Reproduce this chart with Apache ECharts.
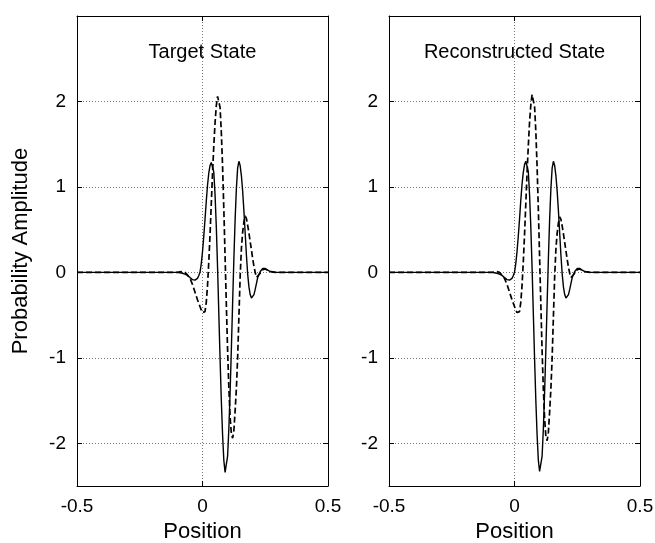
<!DOCTYPE html>
<html>
<head>
<meta charset="utf-8">
<script src="https://cdn.jsdelivr.net/npm/echarts@6/dist/echarts.min.js"></script>
<style>html,body{margin:0;padding:0;background:#fff;}#c{width:655px;height:543px;}</style>
</head>
<body>
<div id="c"></div>
<script>
// ---- data ----
const xTicks = [-0.5, 0, 0.5];
const yTicks = [-2, -1, 0, 1, 2];
const panelTitles = ['Target State', 'Reconstructed State'];

const posLeft = [-0.5,
  -0.10, -0.09, -0.08, -0.07, -0.06, -0.05, -0.04, -0.03,
  -0.020, -0.015, -0.010, -0.005, 0.000, 0.005, 0.010, 0.015, 0.020, 0.025,
  0.030, 0.035, 0.040, 0.045, 0.050, 0.055, 0.060, 0.065, 0.070, 0.075,
  0.080, 0.085, 0.090, 0.095, 0.100, 0.105, 0.110, 0.115, 0.120, 0.125,
  0.130, 0.135, 0.140, 0.145, 0.150, 0.155, 0.160, 0.165, 0.170, 0.175,
  0.180, 0.185, 0.190, 0.195, 0.200, 0.205, 0.210, 0.215, 0.220,
  0.23, 0.24, 0.25, 0.26, 0.27, 0.28, 0.29, 0.30,
  0.5];
const targetSolid = [0,
  0, -0.005, -0.01, -0.02, -0.035, -0.06, -0.085, -0.09,
  -0.07, -0.04, 0.00, 0.10, 0.24, 0.42, 0.62, 0.83, 1.02, 1.16,
  1.25, 1.285, 1.29, 1.175, 0.91, 0.535, 0.06, -0.48, -1.01, -1.50,
  -1.90, -2.20, -2.34, -2.32, -2.15, -1.83, -1.40, -0.90, -0.36, 0.16,
  0.62, 0.98, 1.22, 1.30, 1.25, 1.13, 0.95, 0.72, 0.46, 0.20,
  -0.02, -0.17, -0.26, -0.30, -0.29, -0.26, -0.20, -0.13, -0.06,
  0.01, 0.045, 0.045, 0.025, 0.01, 0.005, 0, 0,
  0];
const targetDashed = [0,
  0, 0.005, 0.01, 0.0, -0.03, -0.07, -0.14, -0.23,
  -0.32, -0.36, -0.40, -0.44, -0.47, -0.48, -0.46, -0.35, -0.155, 0.12,
  0.44, 0.80, 1.16, 1.48, 1.75, 1.95, 2.06, 2.08, 1.93, 1.64,
  1.24, 0.735, 0.18, -0.38, -0.91, -1.35, -1.69, -1.89, -1.94, -1.85,
  -1.62, -1.36, -1.00, -0.52, -0.05, 0.28, 0.47, 0.59, 0.66, 0.63,
  0.55, 0.46, 0.36, 0.26, 0.16, 0.07, 0.00, -0.06, -0.06,
  -0.01, 0.03, 0.04, 0.025, 0.01, 0.005, 0, 0,
  0];

const posRight = [-0.5,
  -0.09, -0.08, -0.07, -0.06, -0.05, -0.04, -0.03, -0.02,
  -0.010, -0.005, 0.000, 0.005, 0.010, 0.015, 0.020, 0.025, 0.030, 0.035,
  0.040, 0.045, 0.050, 0.055, 0.060, 0.065, 0.070, 0.075, 0.080, 0.085,
  0.090, 0.095, 0.100, 0.105, 0.110, 0.115, 0.120, 0.125, 0.130, 0.135,
  0.140, 0.145, 0.150, 0.155, 0.160, 0.165, 0.170, 0.175, 0.180, 0.185,
  0.190, 0.195, 0.200, 0.205, 0.210, 0.215, 0.220, 0.225, 0.230,
  0.24, 0.25, 0.26, 0.27, 0.28, 0.29, 0.30, 0.32,
  0.5];
const reconSolid = [0,
  0, -0.005, -0.01, -0.02, -0.035, -0.06, -0.085, -0.09,
  -0.07, -0.04, 0.00, 0.10, 0.24, 0.42, 0.62, 0.84, 1.03, 1.17,
  1.26, 1.30, 1.30, 1.18, 0.91, 0.53, 0.06, -0.48, -1.01, -1.50,
  -1.90, -2.20, -2.33, -2.32, -2.15, -1.83, -1.40, -0.90, -0.36, 0.16,
  0.62, 0.98, 1.22, 1.30, 1.25, 1.13, 0.95, 0.72, 0.46, 0.20,
  -0.02, -0.17, -0.26, -0.30, -0.29, -0.26, -0.20, -0.13, -0.06,
  0.01, 0.045, 0.045, 0.025, 0.01, 0.005, 0, 0,
  0];
const reconDashed = [0,
  0, 0.005, 0.01, 0.0, -0.03, -0.07, -0.14, -0.23,
  -0.32, -0.36, -0.40, -0.44, -0.47, -0.48, -0.46, -0.35, -0.155, 0.12,
  0.44, 0.80, 1.16, 1.48, 1.76, 1.96, 2.08, 2.10, 1.94, 1.65,
  1.24, 0.735, 0.18, -0.38, -0.92, -1.37, -1.71, -1.92, -1.97, -1.87,
  -1.63, -1.36, -1.00, -0.52, -0.05, 0.27, 0.46, 0.58, 0.65, 0.62,
  0.54, 0.45, 0.35, 0.25, 0.15, 0.06, -0.01, -0.06, -0.06,
  -0.01, 0.03, 0.04, 0.025, 0.01, 0.005, 0, 0,
  0];

// ---- chart ----
const zip = (xs, ys) => xs.map((x, i) => [x, ys[i]]);
const FONT = 'Liberation Sans, Arial, Helvetica, sans-serif';
const grids = [
  {left: 77, top: 16, width: 251, height: 470, containLabel: false, outerBoundsMode: 'none'},
  {left: 389, top: 16, width: 251, height: 470, containLabel: false, outerBoundsMode: 'none'}
];
const xAxes = [], yAxes = [];
grids.forEach((g, i) => {
  xAxes.push({
    gridIndex: i, type: 'value', min: -0.5, max: 0.5, interval: 0.5,
    position: 'bottom',
    name: 'Position', nameLocation: 'middle', nameGap: 34,
    nameTextStyle: {fontFamily: FONT, fontSize: 22, color: '#000'},
    axisLine: {show: true, onZero: false, lineStyle: {color: '#000', width: 1}},
    axisTick: {show: true, inside: true, length: 5, lineStyle: {color: '#000'}},
    axisLabel: {show: true, fontFamily: FONT, fontSize: 19, color: '#000', margin: 11,
      formatter: v => String(v)},
    splitLine: {show: true, lineStyle: {type: [1, 2], color: '#777', width: 1}}
  });
  xAxes.push({
    gridIndex: i, type: 'value', min: -0.5, max: 0.5, interval: 0.5,
    position: 'top',
    axisLine: {show: true, onZero: false, lineStyle: {color: '#000', width: 1}},
    axisTick: {show: true, inside: true, length: 5, lineStyle: {color: '#000'}},
    axisLabel: {show: false}, splitLine: {show: false}
  });
  yAxes.push({
    gridIndex: i, type: 'value', min: -2.5, max: 3,
    position: 'left',
    name: i === 0 ? 'Probability Amplitude' : '',
    nameLocation: 'middle', nameGap: 45,
    nameTextStyle: {fontFamily: FONT, fontSize: 22, color: '#000'},
    axisLine: {show: true, onZero: false, lineStyle: {color: '#000', width: 1}},
    axisTick: {show: true, inside: true, length: 5, customValues: yTicks, lineStyle: {color: '#000'}},
    axisLabel: {show: true, customValues: yTicks, fontFamily: FONT, fontSize: 19, color: '#000', margin: 11},
    splitLine: {show: true, lineStyle: {type: [1, 2], color: '#777', width: 1}}
  });
  yAxes.push({
    gridIndex: i, type: 'value', min: -2.5, max: 3,
    position: 'right',
    axisLine: {show: true, onZero: false, lineStyle: {color: '#000', width: 1}},
    axisTick: {show: true, inside: true, length: 5, customValues: yTicks, lineStyle: {color: '#000'}},
    axisLabel: {show: false}, splitLine: {show: false}
  });
});

function lineSeries(grid, xs, ys, dashed) {
  return {
    type: 'line', xAxisIndex: grid * 2, yAxisIndex: grid * 2,
    data: zip(xs, ys), showSymbol: false, symbol: 'none', smooth: false,
    animation: false, z: dashed ? 3 : 4,
    lineStyle: {color: '#000', width: dashed ? 1.7 : 1.4, type: dashed ? [6, 3] : 'solid'}
  };
}

const chart = echarts.init(document.getElementById('c'), null, {renderer: 'canvas'});
chart.setOption({
  backgroundColor: '#fff',
  animation: false,
  grid: grids,
  xAxis: xAxes,
  yAxis: yAxes,
  graphic: panelTitles.map((t, i) => ({
    type: 'text', x: grids[i].left + grids[i].width / 2, y: 52,
    style: {text: t, fontFamily: FONT, fontSize: 20, fill: '#000', textAlign: 'center', textVerticalAlign: 'middle'}
  })),
  series: [
    lineSeries(0, posLeft, targetSolid, false),
    lineSeries(0, posLeft, targetDashed, true),
    lineSeries(1, posRight, reconSolid, false),
    lineSeries(1, posRight, reconDashed, true)
  ]
});
</script>
</body>
</html>
